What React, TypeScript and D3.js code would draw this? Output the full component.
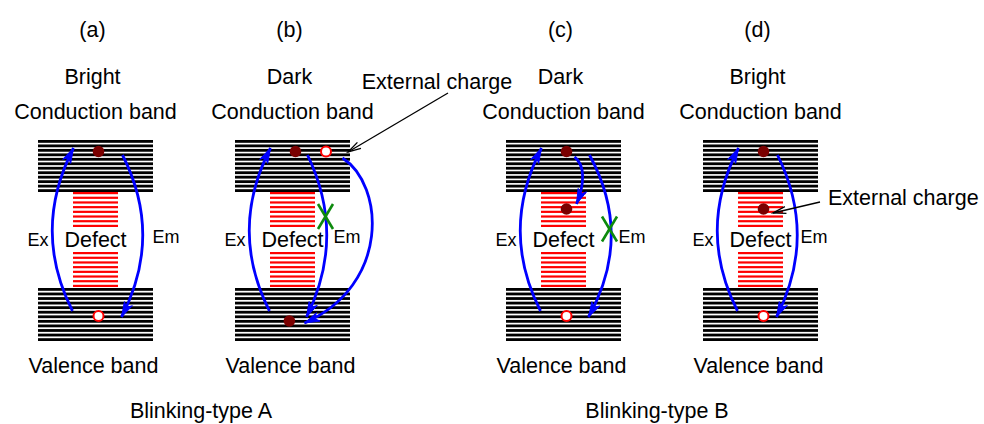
import React from "react";
import * as d3 from "d3";

// Panel descriptions
const panelTags = ["(a)", "(b)", "(c)", "(d)"];
const panelStates = ["Bright", "Dark", "Dark", "Bright"];
const panelGroups = ["A", "A", "B", "B"];
const groupIds = ["A", "B"];
const groupTitles = ["Blinking-type A", "Blinking-type B"];
const conductionLabel = "Conduction band";
const valenceLabel = "Valence band";
const defectLabel = "Defect";
const excitationLabel = "Ex";
const emissionLabel = "Em";
const chargeLabel = "External charge";

// Emission is quenched (crossed out) in the dark states
const emissionBlocked = [false, true, true, false];

// Carriers in each panel: level ("cb" | "defect" | "vb"), kind, slot across the band
const carrierPanel = [0, 0, 1, 1, 1, 2, 2, 2, 3, 3, 3];
const carrierLevel = ["cb", "vb", "cb", "cb", "vb", "cb", "defect", "vb", "cb", "defect", "vb"];
const carrierKind = ["e", "h", "e", "h", "e", "e", "e", "h", "e", "e", "h"];
const carrierSlot = [0, 0, 0, 1, -0.2, 0, 0, 0, 0, 0, 0];

// Which panels carry extra transitions
const chargeTransferPanel = 1; // electron leaks out of the conduction band to an external trap
const trapCapturePanel = 2; // electron captured by the defect level
const chargeArrowPanels = [1, 3];

const W = 984;
const H = 424;
const FONT = "'Liberation Sans', Arial, Helvetica, sans-serif";
const BLUE = "#0000ff";
const RED = "#ff0000";
const DOT = "#7a0000";
const GREEN = "#0d8a0d";

// Vertical energy layout
const energy = {
  cbTop: 140,
  cbBottom: 192,
  defTopA: 192,
  defTopB: 227,
  defBotA: 252,
  defBotB: 287,
  vbTop: 288,
  vbBottom: 341,
};

const groupX = d3.scalePoint<string>().domain(groupIds).range([194, 662]);
const panelX = (i: number) => (groupX(panelGroups[i]) as number) + (i % 2 === 0 ? -98.5 : 98.5);

const bandHalf = 57.5;
const defectHalf = 22.5;

// Em arc geometry per panel (endpoint offset, control offset) and label offset
const emEnd = [27, 15, 26, 17];
const emCtrl = [68, 54, 70, 57];
const emLabel = [57, 41, 55, 40];
const titleNudge = [7, -5];

function bars(x0: number, x1: number, y0: number, y1: number, n: number, t: number) {
  const ys = d3.range(n).map((k) => y0 + ((y1 - y0 - t) * k) / (n - 1));
  return ys.map((y) => ({ x: x0, y, w: x1 - x0, h: t }));
}

function arrowHead(tip: [number, number], from: [number, number], len = 15, half = 4.5, notch = 4) {
  const dx = tip[0] - from[0];
  const dy = tip[1] - from[1];
  const m = Math.hypot(dx, dy) || 1;
  const ux = dx / m;
  const uy = dy / m;
  const nx = -uy;
  const ny = ux;
  const bx = tip[0] - ux * len;
  const by = tip[1] - uy * len;
  const kx = tip[0] - ux * (len - notch);
  const ky = tip[1] - uy * (len - notch);
  return `M${tip[0]},${tip[1]}L${bx + nx * half},${by + ny * half}L${kx},${ky}L${bx - nx * half},${by - ny * half}Z`;
}

function quadArrow(p0: [number, number], c: [number, number], p1: [number, number], key: string) {
  const path = d3.path();
  path.moveTo(p0[0], p0[1]);
  path.quadraticCurveTo(c[0], c[1], p1[0], p1[1]);
  return (
    <g key={key}>
      <path d={path.toString()} fill="none" stroke={BLUE} strokeWidth={2.8} />
      <path d={arrowHead(p1, c)} fill={BLUE} stroke={BLUE} strokeWidth={1} strokeLinejoin="miter" />
    </g>
  );
}

function cubicArrow(p0: [number, number], c1: [number, number], c2: [number, number], p1: [number, number], key: string) {
  const path = d3.path();
  path.moveTo(p0[0], p0[1]);
  path.bezierCurveTo(c1[0], c1[1], c2[0], c2[1], p1[0], p1[1]);
  return (
    <g key={key}>
      <path d={path.toString()} fill="none" stroke={BLUE} strokeWidth={2.8} />
      <path d={arrowHead(p1, c2)} fill={BLUE} stroke={BLUE} strokeWidth={1} />
    </g>
  );
}

function leader(from: [number, number], to: [number, number], key: string) {
  const dx = to[0] - from[0];
  const dy = to[1] - from[1];
  const m = Math.hypot(dx, dy);
  const ux = dx / m;
  const uy = dy / m;
  const nx = -uy;
  const ny = ux;
  const L = 13;
  const hw = 3.5;
  const bx = to[0] - ux * L;
  const by = to[1] - uy * L;
  return (
    <g key={key} stroke="#000" strokeWidth={1.3} fill="none">
      <line x1={from[0]} y1={from[1]} x2={to[0]} y2={to[1]} />
      <path d={`M${bx + nx * hw},${by + ny * hw}L${to[0]},${to[1]}L${bx - nx * hw},${by - ny * hw}`} />
    </g>
  );
}

export default function App() {
  const levelY: Record<string, number> = { cb: 151.5, defect: 209, vb: 316 };

  return (
    <svg width={W} height={H} viewBox={`0 0 ${W} ${H}`} style={{ display: "block", position: "absolute", left: 0, top: 0 }}>
      <rect width={W} height={H} fill="#fff" />
      {panelTags.map((tag, i) => {
        const cx = panelX(i);
        const cbBars = bars(cx - bandHalf, cx + bandHalf, energy.cbTop, energy.cbBottom, 12, 2.8);
        const vbBars = bars(cx - bandHalf, cx + bandHalf, energy.vbTop, energy.vbBottom, 12, 2.8);
        const defUp = bars(cx - defectHalf, cx + defectHalf, energy.defTopA, energy.defTopB, 8, 2.2);
        const defLo = bars(cx - defectHalf, cx + defectHalf, energy.defBotA, energy.defBotB, 8, 2.2);

        const exStart: [number, number] = [cx - 23, 311];
        const exEnd: [number, number] = [cx - 22, 148];
        const exCtrl: [number, number] = [cx - 64, 230];
        const emStart: [number, number] = [cx + emEnd[i], 155];
        const emStop: [number, number] = [cx + emEnd[i] - 1, 317];
        const emC: [number, number] = [cx + emCtrl[i], 236];

        return (
          <g key={tag}>
            <text x={cx - 3} y={37} fontSize={21.5} fontFamily={FONT} textAnchor="middle">{tag}</text>
            <text x={cx - 3} y={84} fontSize={21.5} fontFamily={FONT} textAnchor="middle">{panelStates[i]}</text>
            <text x={cx} y={119} fontSize={21.5} fontFamily={FONT} textAnchor="middle">{conductionLabel}</text>
            <text x={cx - 2} y={373} fontSize={21.5} fontFamily={FONT} textAnchor="middle">{valenceLabel}</text>

            {cbBars.concat(vbBars).map((b, k) => (
              <rect key={`k${k}`} x={b.x} y={b.y} width={b.w} height={b.h} fill="#000" />
            ))}
            {defUp.concat(defLo).map((b, k) => (
              <rect key={`r${k}`} x={b.x} y={b.y} width={b.w} height={b.h} fill={RED} />
            ))}

            <text x={cx} y={247} fontSize={21.5} fontFamily={FONT} textAnchor="middle">{defectLabel}</text>
            <text x={cx - 47} y={246} fontSize={18} fontFamily={FONT} textAnchor="end">{excitationLabel}</text>
            <text x={cx + emLabel[i]} y={243} fontSize={18} fontFamily={FONT}>{emissionLabel}</text>

            {quadArrow(exStart, exCtrl, exEnd, "ex")}
            {quadArrow(emStart, emC, emStop, "em")}

            {i === chargeTransferPanel &&
              cubicArrow([cx + 50, 158], [cx + 92, 185], [cx + 98, 285], [cx + 12, 323], "leak")}
            {i === trapCapturePanel &&
              cubicArrow([cx + 11, 157], [cx + 22, 165], [cx + 21, 185], [cx + 13, 204], "trap")}

            {emissionBlocked[i] && (() => {
              const gx = cx + (i === 1 ? 33 : 46);
              const gy = i === 1 ? 216.5 : 229;
              return (
                <g stroke={GREEN} strokeWidth={2.6}>
                  <line x1={gx - 7.5} y1={gy - 12.5} x2={gx + 7.5} y2={gy + 12.5} />
                  <line x1={gx + 7.5} y1={gy - 12.5} x2={gx - 7.5} y2={gy + 12.5} />
                </g>
              );
            })()}

            {carrierPanel.map((p, k) => {
              if (p !== i) return null;
              const x = cx + 3 + carrierSlot[k] * 30.5;
              const y = carrierLevel[k] === "vb" && carrierKind[k] === "e" ? levelY.vb + 5 : levelY[carrierLevel[k]];
              return carrierKind[k] === "e" ? (
                <circle key={`c${k}`} cx={x} cy={y} r={5.8} fill={DOT} />
              ) : (
                <circle key={`c${k}`} cx={x} cy={y} r={5} fill="#fff" stroke={RED} strokeWidth={2} />
              );
            })}
          </g>
        );
      })}

      {/* External charge annotations */}
      <text x={437} y={89} fontSize={21.5} fontFamily={FONT} textAnchor="middle">{chargeLabel}</text>
      {leader([448, 93], [348, 152], "l1")}
      <text x={828} y={205} fontSize={21.5} fontFamily={FONT}>{chargeLabel}</text>
      {leader([820, 202], [773, 213], "l2")}

      {groupIds.map((g, j) => (
        <text key={g} x={(groupX(g) as number) + titleNudge[j]} y={418} fontSize={21.5} fontFamily={FONT} textAnchor="middle">
          {groupTitles[j]}
        </text>
      ))}
    </svg>
  );
}
